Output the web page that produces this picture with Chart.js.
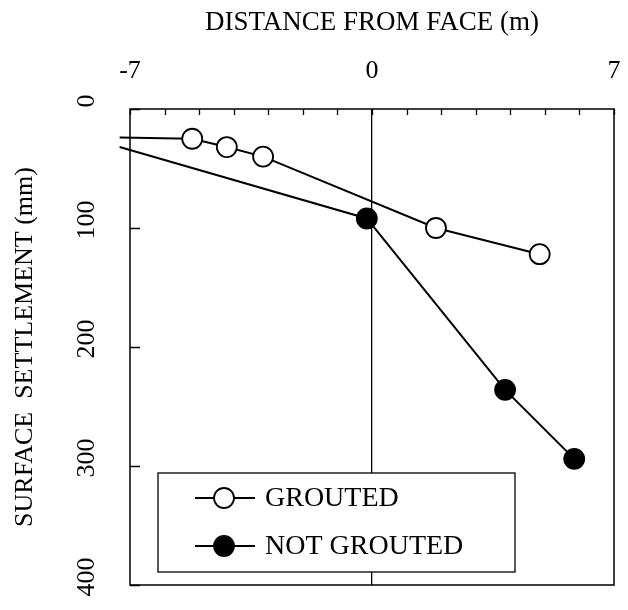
<!DOCTYPE html>
<html>
<head>
<title>Surface settlement</title>
<script src="https://cdn.jsdelivr.net/npm/chart.js@4.4.2/dist/chart.umd.min.js"></script>
<style>
html, body {
    margin: 0;
    padding: 0;
    background: #fff;
}
#chart {
    display: block;
}
</style>
</head>
<body>
<canvas id="chart" width="628" height="610"></canvas>
<script>
// values (first point of each line is the unmarked extension left of the axis)
const groutedX = [-7.3, -5.2, -4.2, -3.15, 1.85, 4.85];
const groutedY = [24, 25, 32, 40, 100, 122];
const notGroutedX = [-7.3, -0.15, 3.85, 5.85];
const notGroutedY = [32, 92, 236, 294];
const xTickLabels = [-7, 0, 7];
const yTicks = [0, 100, 200, 300, 400];
const seriesLabels = ["GROUTED", "NOT GROUTED"];

const FONT = "'Liberation Serif', 'Times New Roman', serif";

toPoints = (xs, ys) => xs.map((x, i) => ({x: x, y: ys[i]}));

// hide the marker on the line extension point
const markerRadius = (ctx) => ctx.dataIndex === 0 ? 0 : 10;

// frame, inward tick marks and the boxed legend inside the plot
const framePlugin = {
    id: "frame",
    beforeDatasetsDraw(chart) {
        const ctx = chart.ctx;
        const a = chart.chartArea;
        const xs = chart.scales.x, ys = chart.scales.y;
        ctx.save();
        ctx.strokeStyle = "#000";
        ctx.lineWidth = 1.3;
        ctx.beginPath();
        xs.ticks.forEach(t => {
            const px = Math.round(xs.getPixelForValue(t.value)) + 0.5;
            ctx.moveTo(px, a.top);
            ctx.lineTo(px, a.top + 6);
        });
        ys.ticks.forEach(t => {
            const py = Math.round(ys.getPixelForValue(t.value)) + 0.5;
            ctx.moveTo(a.left, py);
            ctx.lineTo(a.left + 10, py);
        });
        ctx.stroke();
        ctx.restore();
    },
    afterDraw(chart) {
        const ctx = chart.ctx;
        const a = chart.chartArea;
        ctx.save();
        ctx.strokeStyle = "#000";
        ctx.lineWidth = 1.5;
        ctx.strokeRect(a.left, a.top, a.right - a.left, a.bottom - a.top);

        // legend box
        const bx = a.left + 28, by = a.bottom - 112, bw = 357, bh = 99;
        ctx.fillStyle = "#fff";
        ctx.fillRect(bx, by, bw, bh);
        ctx.lineWidth = 1.3;
        ctx.strokeRect(bx, by, bw, bh);

        chart.data.datasets.forEach((ds, i) => {
            const cy = by + 25 + i * 48;
            ctx.strokeStyle = ds.borderColor;
            ctx.lineWidth = 2;
            ctx.beginPath();
            ctx.moveTo(bx + 37, cy);
            ctx.lineTo(bx + 97, cy);
            ctx.stroke();
            ctx.beginPath();
            ctx.arc(bx + 66, cy, 10, 0, Math.PI * 2);
            ctx.fillStyle = ds.pointBackgroundColor;
            ctx.fill();
            ctx.lineWidth = 1.8;
            ctx.stroke();
            ctx.fillStyle = "#000";
            ctx.font = "28px " + FONT;
            ctx.textBaseline = "middle";
            ctx.textAlign = "left";
            ctx.fillText(ds.label, bx + 107, cy + 1);
        });
        ctx.restore();
    }
};

const chart = new Chart(document.getElementById("chart"), {
    type: "line",
    data: {
        datasets: [
            {
                label: seriesLabels[0],
                data: toPoints(groutedX, groutedY),
                borderColor: "#000",
                borderWidth: 2,
                pointBackgroundColor: "#fff",
                pointBorderColor: "#000",
                pointBorderWidth: 1.8,
                pointRadius: markerRadius,
                clip: false
            },
            {
                label: seriesLabels[1],
                data: toPoints(notGroutedX, notGroutedY),
                borderColor: "#000",
                borderWidth: 2,
                pointBackgroundColor: "#000",
                pointBorderColor: "#000",
                pointBorderWidth: 1.8,
                pointRadius: markerRadius,
                clip: false
            }
        ]
    },
    options: {
        responsive: false,
        animation: false,
        layout: {
            padding: {left: 0, top: 0, right: 14, bottom: 25}
        },
        plugins: {
            legend: {display: false},
            tooltip: {enabled: false}
        },
        scales: {
            x: {
                type: "linear",
                position: "top",
                min: -7,
                max: 7,
                border: {display: false},
                grid: {
                    drawOnChartArea: true,
                    drawTicks: false,
                    color: (ctx) => ctx.tick && ctx.tick.value === 0 ? "#000" : "rgba(0,0,0,0)",
                    lineWidth: 1.3
                },
                ticks: {
                    stepSize: 1,
                    autoSkip: false,
                    maxRotation: 0,
                    padding: 22,
                    color: "#000",
                    font: {family: FONT, size: 26},
                    callback: (v) => xTickLabels.includes(v) ? String(v) : ""
                },
                title: {
                    display: true,
                    text: "DISTANCE FROM FACE (m)",
                    color: "#000",
                    font: {family: FONT, size: 27},
                    padding: {top: 7, bottom: 0}
                },
                afterFit: (scale) => {
                    scale.height = 109;
                    scale.paddingLeft = 0;
                    scale.paddingRight = 0;
                }
            },
            y: {
                type: "linear",
                reverse: true,
                min: 0,
                max: 400,
                border: {display: false},
                grid: {
                    drawOnChartArea: false,
                    drawTicks: false
                },
                afterBuildTicks: (scale) => {
                    scale.ticks = yTicks.map(v => ({value: v}));
                },
                ticks: {
                    minRotation: 90,
                    maxRotation: 90,
                    crossAlign: "center",
                    padding: 23,
                    labelOffset: -8,
                    color: "#000",
                    font: {family: FONT, size: 26}
                },
                title: {
                    display: true,
                    text: "SURFACE  SETTLEMENT (mm)",
                    color: "#000",
                    font: {family: FONT, size: 26},
                    padding: {top: 10, bottom: 0}
                },
                afterFit: (scale) => {
                    scale.width = 130;
                    scale.paddingTop = 0;
                    scale.paddingBottom = 0;
                }
            }
        }
    },
    plugins: [framePlugin]
});
</script>
</body>
</html>
